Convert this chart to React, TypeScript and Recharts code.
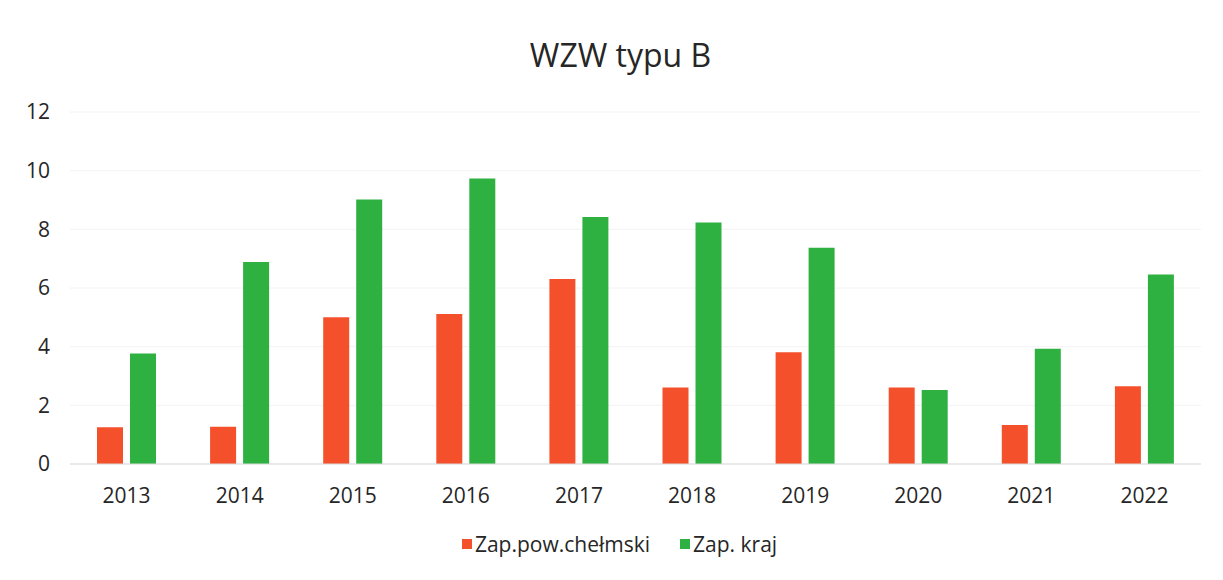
import {
  BarChart,
  Bar,
  XAxis,
  YAxis,
  CartesianGrid,
  Legend,
} from "recharts";

const years = ["2013", "2014", "2015", "2016", "2017", "2018", "2019", "2020", "2021", "2022"];
const powiat = [1.25, 1.27, 5.0, 5.11, 6.31, 2.61, 3.81, 2.61, 1.33, 2.65];
const kraj = [3.77, 6.89, 9.02, 9.73, 8.42, 8.23, 7.37, 2.52, 3.93, 6.46];
const yTicks = [0, 2, 4, 6, 8, 10, 12];

const series = [
  { key: "powiat", name: "Zap.pow.chełmski", color: "#f4502c" },
  { key: "kraj", name: "Zap. kraj", color: "#2fb142" },
];

const data = years.map((year, i) => ({
  year,
  powiat: powiat[i],
  kraj: kraj[i],
}));

const FONT = "'Open Sans', 'Noto Sans', sans-serif";

function LegendContent() {
  return (
    <div
      style={{
        display: "flex",
        justifyContent: "center",
        alignItems: "center",
        gap: 30,
        fontFamily: FONT,
        fontSize: 21,
        color: "#262626",
        paddingLeft: 18,
      }}
    >
      {series.map((s) => (
        <div key={s.key} style={{ display: "flex", alignItems: "center", gap: 3 }}>
          <span style={{ width: 10, height: 10, background: s.color, display: "inline-block" }} />
          <span>{s.name}</span>
        </div>
      ))}
    </div>
  );
}

export default function App() {
  return (
    <div
      style={{
        position: "absolute",
        left: 0,
        top: 0,
        width: 1223,
        height: 580,
        background: "#fff",
        fontFamily: FONT,
      }}
    >
      <div
        style={{
          position: "absolute",
          top: 33,
          left: 0,
          width: 1241,
          textAlign: "center",
          fontSize: 32,
          lineHeight: "44px",
          color: "#262626",
        }}
      >
        WZW typu B
      </div>
      <BarChart
        width={1223}
        height={580}
        data={data}
        margin={{ top: 112, right: 22, bottom: 14, left: 20 }}
        barSize={26}
        barGap={7}
      >
        <CartesianGrid vertical={false} stroke="#f2f2f2" />
        <XAxis
          dataKey="year"
          tickLine={false}
          tickSize={0}
          tickMargin={24}
          height={66}
          axisLine={{ stroke: "#d9d9d9" }}
          tick={{ fontSize: 21, fill: "#262626", fontFamily: FONT }}
        />
        <YAxis
          domain={[0, 12]}
          ticks={yTicks}
          width={50}
          axisLine={false}
          tickLine={false}
          tickSize={0}
          tickMargin={20}
          tick={{ fontSize: 21, fill: "#262626", fontFamily: FONT }}
        />
        <Legend verticalAlign="bottom" height={36} content={() => <LegendContent />} />
        {series.map((s) => (
          <Bar key={s.key} dataKey={s.key} name={s.name} fill={s.color} isAnimationActive={false} />
        ))}
      </BarChart>
    </div>
  );
}
